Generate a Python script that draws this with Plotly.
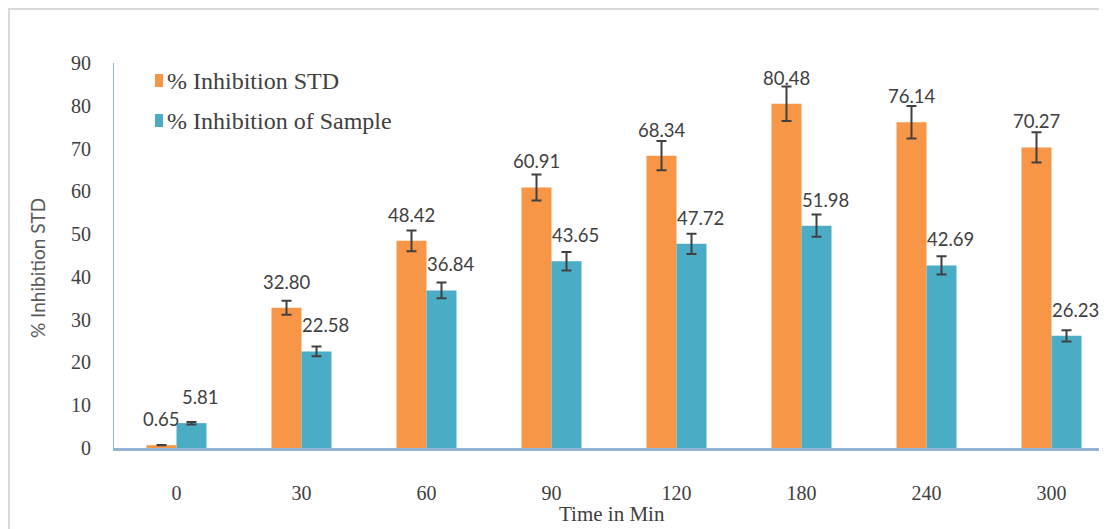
import plotly.graph_objects as go

# ---- data ----
categories = ["0", "30", "60", "90", "120", "180", "240", "300"]
std_values = [0.65, 32.80, 48.42, 60.91, 68.34, 80.48, 76.14, 70.27]
sample_values = [5.81, 22.58, 36.84, 43.65, 47.72, 51.98, 42.69, 26.23]
series_names = ["% Inhibition STD", "% Inhibition of Sample"]
y_ticks = [0, 10, 20, 30, 40, 50, 60, 70, 80, 90]
error_percent = 5

# ---- style ----
OFF = 8  # page body margin
W, H = 1107 - OFF, 529 - OFF
ML, MR, MT = 114 - OFF, 0, 63 - OFF
PLOT_BOTTOM = 448 - OFF
MB = H - PLOT_BOTTOM
PW, PH = W - ML - MR, H - MT - MB
ORANGE = "#F79646"
BLUE = "#4BACC6"
ERR = "#404040"
TXT = "#404040"
SERIF = "Liberation Serif"
SANS = "Lato"


def px_x(p):  # page pixel -> paper
    return (p - OFF - ML) / PW


def px_y(p):
    return (PLOT_BOTTOM - (p - OFF)) / PH


fig = go.Figure()
fig.add_trace(go.Bar(
    x=categories, y=std_values, name=series_names[0],
    marker=dict(color=ORANGE, line=dict(width=0)),
    error_y=dict(type="percent", value=error_percent, color=ERR, thickness=2, width=5),
    showlegend=False,
))
fig.add_trace(go.Bar(
    x=categories, y=sample_values, name=series_names[1],
    marker=dict(color=BLUE, line=dict(width=0)),
    error_y=dict(type="percent", value=error_percent, color=ERR, thickness=2, width=5),
    showlegend=False,
))

annotations = []
for i, v in enumerate(std_values):
    annotations.append(dict(x=i, y=v, xref="x", yref="y", text=f"{v:.2f}",
                            showarrow=False, yanchor="bottom", xanchor="center",
                            xshift=-15, yshift=13,
                            font=dict(family=SANS, size=18.5, color=TXT)))
for i, v in enumerate(sample_values):
    annotations.append(dict(x=i, y=v, xref="x", yref="y", text=f"{v:.2f}",
                            showarrow=False, yanchor="bottom", xanchor="center",
                            xshift=24, yshift=13,
                            font=dict(family=SANS, size=18.5, color=TXT)))

# axis titles
annotations.append(dict(x=px_x(612), y=px_y(514), xref="paper", yref="paper",
                        text="Time in Min", showarrow=False, xanchor="center", yanchor="middle",
                        font=dict(family=SERIF, size=21, color=TXT)))
annotations.append(dict(x=px_x(37), y=px_y(268), xref="paper", yref="paper",
                        text="% Inhibition STD", showarrow=False, textangle=-90,
                        xanchor="center", yanchor="middle",
                        font=dict(family=SANS, size=19, color="#595959")))

# manual legend
leg_rows = [(ORANGE, series_names[0], 81), (BLUE, series_names[1], 121)]
shapes = []
for col, name, yc in leg_rows:
    shapes.append(dict(type="rect", xref="paper", yref="paper",
                       x0=px_x(155), x1=px_x(163), y0=px_y(yc + 6), y1=px_y(yc - 7),
                       fillcolor=col, line=dict(width=0)))
    annotations.append(dict(x=px_x(165), y=px_y(yc), xref="paper", yref="paper",
                            text=name, showarrow=False, xanchor="left", yanchor="middle",
                            font=dict(family=SERIF, size=24, color=TXT)))

# outer light frame
shapes.append(dict(type="rect", xref="paper", yref="paper",
                   x0=px_x(OFF + 1), x1=px_x(1130), y0=px_y(560), y1=px_y(OFF + 1),
                   line=dict(color="#D9D9D9", width=2), fillcolor="rgba(0,0,0,0)", layer="below"))

fig.update_layout(
    width=W, height=H,
    margin=dict(l=ML, r=MR, t=MT, b=MB, pad=0),
    paper_bgcolor="white", plot_bgcolor="white",
    barmode="group", bargap=0.52, bargroupgap=0,
    annotations=annotations, shapes=shapes,
    xaxis=dict(type="category", range=[-0.5, PW / 125 - 0.5],
               showline=True, linecolor="#95B3D7", linewidth=3,
               showgrid=False, zeroline=False, ticks="",
               ticklabelstandoff=25,
               tickfont=dict(family=SERIF, size=20, color=TXT)),
    yaxis=dict(range=[0, 90], tickvals=y_ticks,
               showline=True, linecolor="#8EB4E3", linewidth=1,
               showgrid=False, zeroline=False, ticks="",
               ticklabelstandoff=18,
               tickfont=dict(family=SERIF, size=20, color=TXT)),
)

fig.write_html("out.html")
